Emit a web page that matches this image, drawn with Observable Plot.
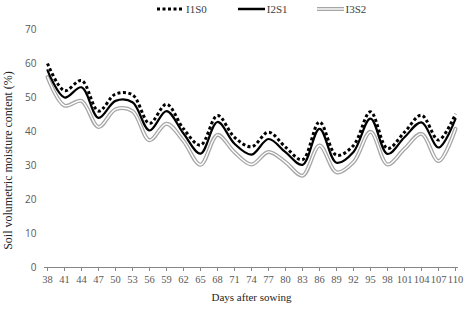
<!DOCTYPE html>
<html><head><meta charset="utf-8">
<script src="https://cdn.jsdelivr.net/npm/d3@7"></script>
<script src="https://cdn.jsdelivr.net/npm/@observablehq/plot@0.6"></script>
<style>
body{margin:0;background:#fff;}
#wrap{width:468px;height:309px;position:relative;}
#legend{height:18px;display:flex;align-items:center;justify-content:flex-start;font-family:"Liberation Serif",serif;font-size:11px;color:#404040;padding-left:157px;box-sizing:border-box;}
#legend .it{display:flex;align-items:center;margin-right:4px;}
#legend svg{margin-right:2px;}
</style></head>
<body><div id="wrap"><div id="legend"></div><div id="chart"></div></div>
<script>
const days = [38,41,44,47,50,53,56,59,62,65,68,71,74,77,80,83,86,89,92,95,98,101,104,107,110];
const I1S0 = [60,52,55,46,51,50.8,42.4,48,40.8,36,44.7,38.3,35.5,39.8,35.4,31.7,42.8,33,35.9,45.8,35,39.8,44.8,37.5,45.2];
const I2S1 = [58,50,53,44,49,48.6,40.3,46,39.4,33.5,42.8,36.4,33.2,37.8,33.9,30.2,40.8,30.8,34,43.8,33.4,38.3,42.7,35.3,43.7];
const I3S2 = [56,47.6,49,41.3,46.5,46,37.4,42.3,37.2,30.2,39,33.9,30.3,34,31,27,35.9,28,31,39.9,30.3,34.9,39.3,31.3,40.8];
const seriesNames = ["I1S0","I2S1","I3S2"];
const yTicks = [0,10,20,30,40,50,60,70];

const rows = (vals) => days.map((d,i)=>({day:String(d), v:vals[i]}));

// Legend
const lg = document.getElementById("legend");
const sw = {
  I1S0: '<svg width="27" height="6"><line x1="0" y1="3" x2="27" y2="3" stroke="#000" stroke-width="3" stroke-dasharray="3 2.5"/></svg>',
  I2S1: '<svg width="27" height="6"><line x1="0" y1="3" x2="27" y2="3" stroke="#000" stroke-width="2.5"/></svg>',
  I3S2: '<svg width="27" height="6"><line x1="0" y1="3" x2="27" y2="3" stroke="#a6a6a6" stroke-width="4"/><line x1="0" y1="3" x2="27" y2="3" stroke="#fff" stroke-width="1.4"/></svg>'
};
const gaps = {I1S0:"31px", I2S1:"29px", I3S2:"0px"};
seriesNames.forEach(n=>{
  const d=document.createElement("div");d.className="it";d.style.marginRight=gaps[n];
  d.innerHTML=sw[n]+'<span>'+n+'</span>';lg.appendChild(d);
});

const chart = Plot.plot({
  width:468, height:291,
  marginTop:11, marginBottom:42, marginLeft:44, marginRight:10,
  style:{fontFamily:"Liberation Serif, serif", fontSize:"10.5px", color:"#595959", background:"#fff"},
  x:{type:"point", domain:days.map(String), padding:0, label:null},
  y:{domain:[0,70], label:null},
  marks:[
    Plot.ruleY([0],{stroke:"#868686", strokeWidth:1}),
    Plot.axisX({tickSize:4, tickPadding:4, stroke:"#868686", fill:"#595959", fontFamily:"Liberation Serif, serif", fontSize:10.5,
      label:"Days after sowing", labelAnchor:"center", labelOffset:33, labelArrow:"none"}),
    Plot.axisY({ticks:yTicks, tickSize:0, tickPadding:8, fill:"#595959", fontFamily:"Open Sans, sans-serif", fontSize:10,
      label:null}),
    Plot.text(["Soil volumetric moisture content (%)"],{frameAnchor:"left", textAnchor:"middle", dx:-36, dy:12, rotate:-90, fill:"#262626",
      fontFamily:"Liberation Serif, serif", fontSize:12}),
    Plot.line(rows(I3S2),{x:"day", y:"v", stroke:"#a6a6a6", strokeWidth:4, curve:"catmull-rom"}),
    Plot.line(rows(I3S2),{x:"day", y:"v", stroke:"#fff", strokeWidth:1.4, curve:"catmull-rom"}),
    Plot.line(rows(I2S1),{x:"day", y:"v", stroke:"#000", strokeWidth:2.2, curve:"catmull-rom"}),
    Plot.line(rows(I1S0),{x:"day", y:"v", stroke:"#000", strokeWidth:3, strokeDasharray:"3 2.5", strokeLinecap:"butt", curve:"catmull-rom"})
  ]
});
chart.querySelectorAll('[aria-label="x-axis label"] text, [aria-label="x-axis label"]').forEach(e=>{e.setAttribute("fill","#262626");e.style.fontSize="11px";});
document.getElementById("chart").appendChild(chart);
</script></body></html>
